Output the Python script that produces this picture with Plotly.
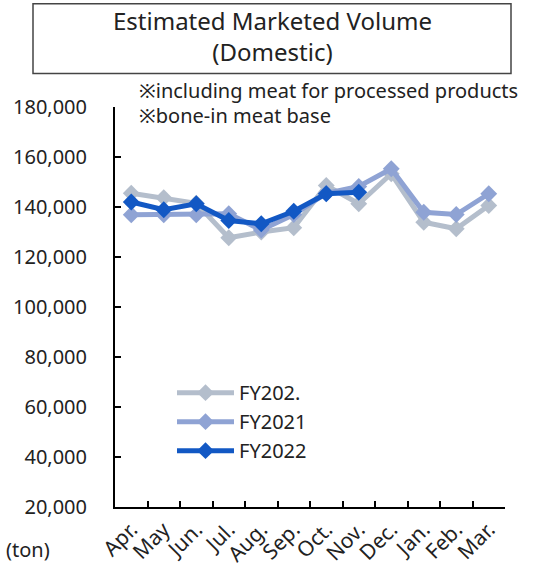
import plotly.graph_objects as go

months = ["Apr.", "May", "Jun.", "Jul.", "Aug.", "Sep.", "Oct.", "Nov.", "Dec.", "Jan.", "Feb.", "Mar."]
fy202x = [145500, 143700, 141500, 127700, 130000, 131700, 148600, 141300, 153300, 133900, 131300, 140600]
fy2021 = [136900, 136900, 136900, 137300, 130800, 137000, 145500, 148200, 155300, 137900, 137000, 145300]
fy2022 = [142000, 138900, 141300, 134600, 133300, 138300, 145300, 145900]
series_names = ["FY202.", "FY2021", "FY2022"]
colors = ["#B4BECC", "#8FA3D4", "#1258C4"]
y_ticks = list(range(20000, 180001, 20000))

FONT = "Noto Sans"
W, H = 539, 576
L, R, T, B = 115, 505, 106.5, 507

def px(x):
    return (x - L) / (R - L)

def py(y):
    return (B - y) / (B - T)

fig = go.Figure()
for name, vals, col in zip(series_names, [fy202x, fy2021, fy2022], colors):
    fig.add_trace(go.Scatter(
        x=months[:len(vals)], y=vals, name=name, mode="lines+markers",
        line=dict(color=col, width=5),
        marker=dict(symbol="diamond", size=13, color=col),
    ))

fig.update_layout(
    width=W, height=H,
    margin=dict(l=L, r=W - R, t=T, b=H - B, pad=0, autoexpand=False),
    paper_bgcolor="white", plot_bgcolor="white",
    font=dict(family=FONT, size=20, color="#222222"),
    showlegend=True,
    legend=dict(x=px(172), y=py(373), xanchor="left", yanchor="top",
                bgcolor="rgba(0,0,0,0)", font=dict(size=20),
                tracegroupgap=0, itemwidth=57),
    xaxis=dict(type="category", categoryarray=months, range=[-0.5, 11.5],
               showline=True, linecolor="black", linewidth=2,
               ticks="inside", ticklen=6, tickcolor="black", tickwidth=1.5,
               tickson="boundaries", tickangle=-45, showgrid=False,
               automargin=False, tickfont=dict(size=21)),
    yaxis=dict(range=[20000, 180000], tickvals=y_ticks,
               tickformat=",d", showline=True, linecolor="black", linewidth=2,
               ticks="inside", ticklen=6, tickcolor="black", tickwidth=1.5,
               showgrid=False, zeroline=False, ticklabelstandoff=22,
               automargin=False, tickfont=dict(size=20)),
)

fig.add_shape(type="rect", xref="paper", yref="paper",
              x0=px(33), x1=px(511), y0=py(73), y1=py(3),
              line=dict(color="#444444", width=1.5), fillcolor="white")

fig.add_annotation(xref="paper", yref="paper", x=px(272), y=py(35),
                   text="Estimated Marketed Volume<br>(Domestic)", showarrow=False,
                   font=dict(size=24, color="#222222"), xanchor="center", yanchor="middle",
                   align="center")
fig.add_annotation(xref="paper", yref="paper", x=px(137), y=py(90),
                   text="※including meat for processed products", showarrow=False,
                   font=dict(size=20, color="#222222"), xanchor="left", yanchor="middle")
fig.add_annotation(xref="paper", yref="paper", x=px(137), y=py(115),
                   text="※bone-in meat base", showarrow=False,
                   font=dict(size=20, color="#222222"), xanchor="left", yanchor="middle")
fig.add_annotation(xref="paper", yref="paper", x=px(4), y=py(550),
                   text="(ton)", showarrow=False,
                   font=dict(size=20, color="#222222"), xanchor="left", yanchor="middle")

fig.write_html("out.html", config={"displayModeBar": False},
               post_script="document.body.style.margin='0px';document.body.style.overflow='hidden';")
